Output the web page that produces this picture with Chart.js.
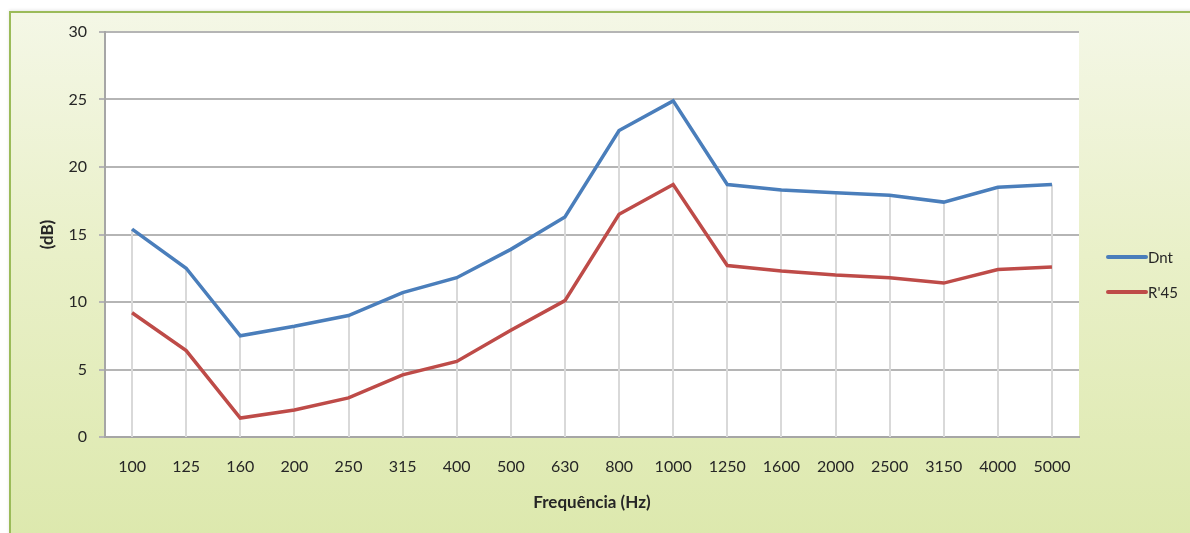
<!DOCTYPE html>
<html>
<head>
<meta charset="utf-8">
<script src="https://cdn.jsdelivr.net/npm/chart.js@4.4.1/dist/chart.umd.min.js"></script>
<style>
  html, body { margin: 0; padding: 0; width: 1190px; height: 533px; overflow: hidden; background: #ffffff; }
  #frame {
    position: absolute; left: 9px; top: 11px; width: 1200px; height: 540px;
    border-top: 2px solid #9bbb59; border-left: 2px solid #9bbb59;
    background: linear-gradient(to bottom, #f4f7e6 0%, #e9f0c8 45%, #dce8ac 100%);
    box-shadow: 0 -1px 3px rgba(0,0,0,0.10);
  }
  #chart { position: absolute; left: 0; top: 0; }
</style>
</head>
<body>
<div id="frame"></div>
<canvas id="chart" width="1190" height="533"></canvas>
<script>
// Third-octave band centre frequencies (Hz)
const frequencies = ['100', '125', '160', '200', '250', '315', '400', '500', '630',
                     '800', '1000', '1250', '1600', '2000', '2500', '3150', '4000', '5000'];

// Standardised level difference Dnt (dB)
const dntValues = [15.4, 12.5, 7.5, 8.2, 9.0, 10.7, 11.8, 13.9, 16.3,
                   22.7, 24.9, 18.7, 18.3, 18.1, 17.9, 17.4, 18.5, 18.7];

// Apparent sound reduction index R'45 (dB)
const r45Values = [9.2, 6.4, 1.4, 2.0, 2.9, 4.6, 5.6, 7.9, 10.1,
                   16.5, 18.7, 12.7, 12.3, 12.0, 11.8, 11.4, 12.4, 12.6];

const seriesNames = ['Dnt', "R'45"];
const seriesColors = ['#4a7ebb', '#be4b48'];

const yMin = 0, yMax = 30, yStep = 5;
const axisTitleX = 'Frequência (Hz)';
const axisTitleY = '(dB)';

const FONT = 'Lato, "Open Sans", sans-serif';
const TEXT = '#262626';

// White plot area on top of the green panel
const plotBackground = {
  id: 'plotBackground',
  beforeDraw(chart) {
    const { ctx, chartArea: a } = chart;
    ctx.save();
    ctx.fillStyle = '#ffffff';
    ctx.fillRect(a.left, a.top, a.right - a.left, a.bottom - a.top);
    ctx.restore();
  }
};

// Drop lines from the highest series value down to the category axis
const dropLines = {
  id: 'dropLines',
  beforeDatasetsDraw(chart) {
    const { ctx, scales: { x, y } } = chart;
    ctx.save();
    ctx.strokeStyle = '#d9d9d9';
    ctx.lineWidth = 2;
    frequencies.forEach((f, i) => {
      const top = Math.max(...chart.data.datasets.map(ds => ds.data[i]));
      const px = Math.round(x.getPixelForValue(i));
      ctx.beginPath();
      ctx.moveTo(px, y.getPixelForValue(top));
      ctx.lineTo(px, y.getPixelForValue(yMin));
      ctx.stroke();
    });
    ctx.restore();
  }
};

// Legend to the right of the plot: short line sample + series name
const sideLegend = {
  id: 'sideLegend',
  afterDraw(chart) {
    const { ctx, chartArea: a } = chart;
    const x0 = a.right + 29, x1 = a.right + 67;
    const yStart = 257, gap = 35;
    ctx.save();
    ctx.font = '15px ' + FONT;
    ctx.textBaseline = 'middle';
    ctx.textAlign = 'left';
    chart.data.datasets.forEach((ds, i) => {
      const yy = yStart + i * gap;
      ctx.strokeStyle = ds.borderColor;
      ctx.lineWidth = 4;
      ctx.lineCap = 'round';
      ctx.beginPath();
      ctx.moveTo(x0, yy);
      ctx.lineTo(x1, yy);
      ctx.stroke();
      ctx.fillStyle = TEXT;
      ctx.fillText(ds.label, x1 + 2, yy + 1);
    });
    ctx.restore();
  }
};

new Chart(document.getElementById('chart'), {
  type: 'line',
  data: {
    labels: frequencies,
    datasets: [
      { label: seriesNames[0], data: dntValues, borderColor: seriesColors[0], backgroundColor: seriesColors[0] },
      { label: seriesNames[1], data: r45Values, borderColor: seriesColors[1], backgroundColor: seriesColors[1] }
    ]
  },
  options: {
    responsive: false,
    animation: false,
    layout: { padding: { top: 32, right: 111, left: 0, bottom: 0 } },
    elements: {
      line: { borderWidth: 3.5, tension: 0, borderJoinStyle: 'miter', borderCapStyle: 'butt' },
      point: { radius: 0, hoverRadius: 0 }
    },
    plugins: {
      legend: { display: false },
      tooltip: { enabled: false }
    },
    scales: {
      x: {
        type: 'category',
        offset: true,
        grid: { display: false, drawTicks: false },
        border: { display: true, color: '#a6a6a6', width: 2 },
        ticks: { color: TEXT, font: { family: FONT, size: 16 }, padding: 20, maxRotation: 0, autoSkip: false },
        title: {
          display: true, text: axisTitleX, color: TEXT,
          font: { family: FONT, size: 17, weight: 'bold' },
          padding: { top: 0, bottom: 20 }
        },
        afterFit(scale) { scale.height = 96; }
      },
      y: {
        min: yMin, max: yMax,
        ticks: { stepSize: yStep, color: TEXT, font: { family: FONT, size: 16 }, padding: 12 },
        grid: { color: '#b5b5b5', lineWidth: 2, tickLength: 6, drawTicks: true },
        border: { display: true, color: '#a6a6a6', width: 2 },
        title: {
          display: true, text: axisTitleY, color: TEXT,
          font: { family: FONT, size: 17, weight: 'bold' },
          padding: { top: 37, bottom: 0 }
        },
        afterFit(scale) { scale.width = 105; }
      }
    }
  },
  plugins: [plotBackground, dropLines, sideLegend]
});
</script>
</body>
</html>
